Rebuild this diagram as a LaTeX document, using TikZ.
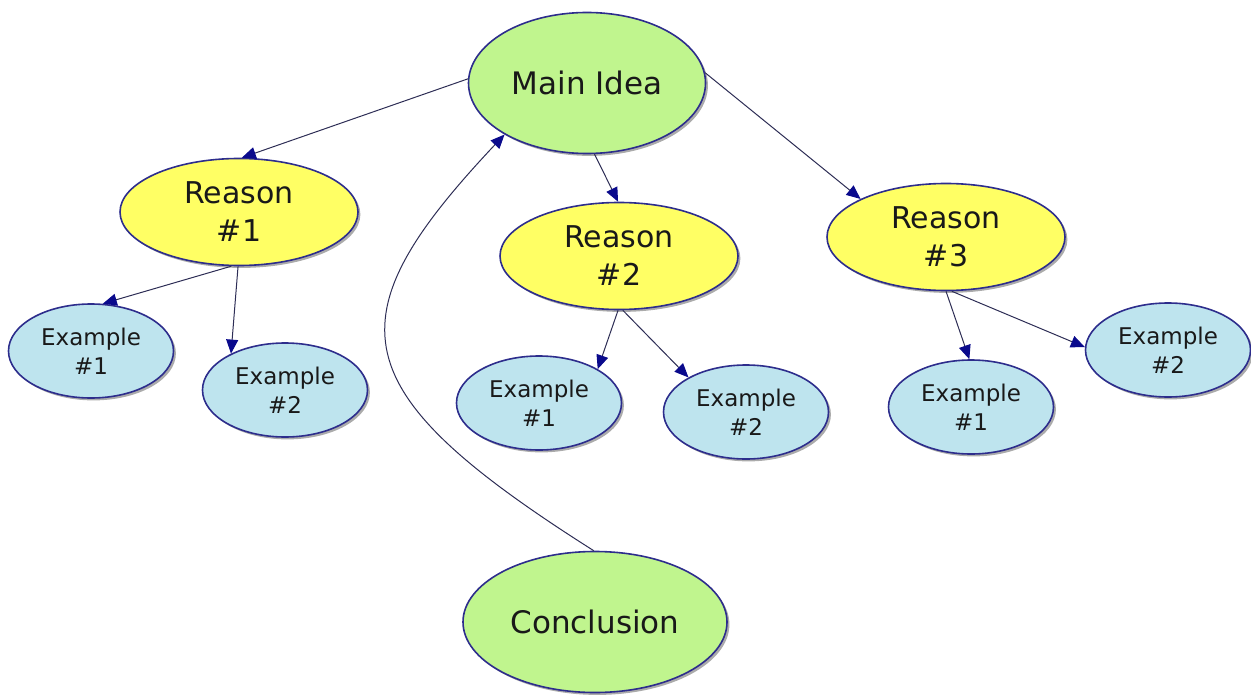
\documentclass[tikz,border=0pt]{standalone}
\usepackage{fontspec}
\setmainfont{DejaVu Sans}
\usetikzlibrary{shapes.geometric,shadows,arrows.meta}
\definecolor{mgreen}{RGB}{192,245,142}
\definecolor{myellow}{RGB}{255,255,100}
\definecolor{mblue}{RGB}{190,228,238}
\definecolor{mborder}{RGB}{45,45,140}
\definecolor{mline}{RGB}{45,45,85}
\definecolor{mtip}{RGB}{10,10,140}
\tikzset{
  bub/.style={ellipse, draw=mborder, line width=0.8pt, inner sep=0pt, align=center,
    text=black!90,
    drop shadow={shadow xshift=1.2pt, shadow yshift=-1.2pt, fill=black!55, opacity=0.6}},
  mainbub/.style={bub, fill=mgreen, minimum width=118.5pt, minimum height=70.5pt,
    font=\fontsize{15.5}{19}\selectfont},
  reasonbub/.style={bub, fill=myellow, minimum width=119pt, minimum height=53.5pt,
    font=\fontsize{15}{19}\selectfont},
  exbub/.style={bub, fill=mblue, minimum width=82.5pt, minimum height=47pt,
    font=\fontsize{11.5}{14.5}\selectfont},
  conn/.style={draw=mline, line width=0.5pt,
    -{Triangle[length=7pt,width=6pt,fill=mtip,color=mtip]}}
}
\begin{document}
\begin{tikzpicture}[x=0.5pt,y=-0.5pt]
\useasboundingbox (0,0) rectangle (1251,695);
\node[mainbub] (main) at (587,83) {Main Idea};
\node[mainbub, minimum width=132pt] (concl) at (595,622) {Conclusion};
\node[reasonbub] (r1) at (239,212) {Reason\\\#1};
\node[reasonbub] (r2) at (619,256) {Reason\\\#2};
\node[reasonbub] (r3) at (946,237) {Reason\\\#3};
\node[exbub] (e11) at (91,351) {Example\\\#1};
\node[exbub] (e12) at (285,390) {Example\\\#2};
\node[exbub] (e21) at (539,403) {Example\\\#1};
\node[exbub] (e22) at (746,412) {Example\\\#2};
\node[exbub] (e31) at (971,407) {Example\\\#1};
\node[exbub] (e32) at (1168,350) {Example\\\#2};

\draw[conn] (main.178) -- (r1.87);
\draw[conn] (main.-84) -- (r2.91);
\draw[conn] (main.5) -- (r3.156);
\draw[conn] (concl.91) .. controls (340,390) and (330,320) .. (main.212);
\draw[conn] (r1.-98) -- (e11.76);
\draw[conn] (r1.-91) -- (e12.146);
\draw[conn] (r2.-91) -- (e21.30);
\draw[conn] (r2.-86) -- (e22.149);
\draw[conn] (r3.-90) -- (e31.92);
\draw[conn] (r3.-84) -- (e32.178);
\end{tikzpicture}
\end{document}
